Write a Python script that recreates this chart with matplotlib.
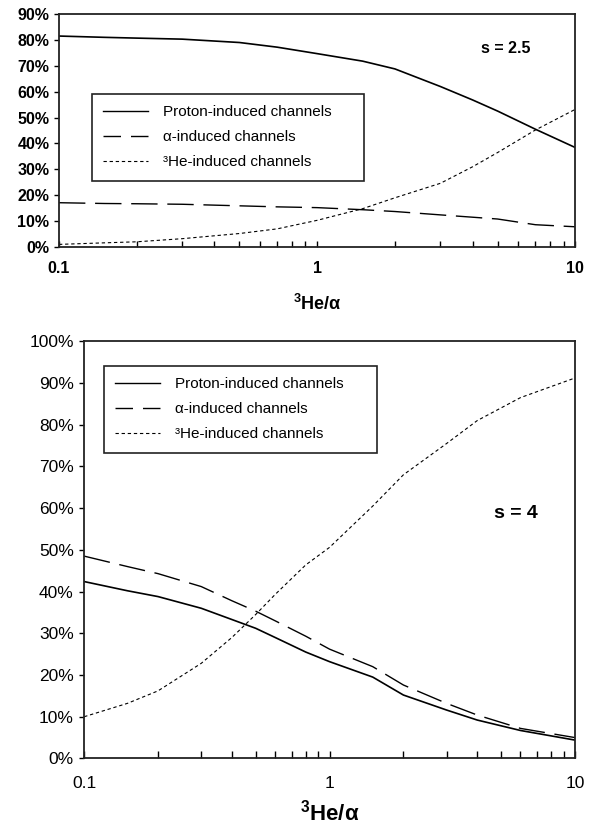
import matplotlib
matplotlib.use("Agg")
from matplotlib import pyplot as plt
from matplotlib.lines import Line2D
from matplotlib.ticker import PercentFormatter, FixedLocator, FixedFormatter, LogLocator, NullFormatter

plt.rcParams['font.family'] = ['Liberation Sans', 'DejaVu Sans']
plt.rcParams['mathtext.fontset'] = 'custom'
plt.rcParams['mathtext.rm'] = 'Liberation Sans'
plt.rcParams['mathtext.it'] = 'Liberation Sans'
plt.rcParams['mathtext.bf'] = 'Liberation Sans:bold'

# upper panel, s = 2.5
x_top = [0.1, 0.15, 0.2, 0.3, 0.5, 0.7, 1, 1.5, 2, 3, 4, 5, 7, 10]
proton_top = [81.5, 81.0, 80.7, 80.3, 79.0, 77.2, 74.7, 71.8, 68.8, 62.0, 56.8, 52.5, 45.5, 38.4]
alpha_top = [17.1, 16.8, 16.7, 16.5, 15.9, 15.5, 15.2, 14.4, 13.7, 12.4, 11.5, 10.8, 8.6, 7.8]
he3_top = [1.0, 1.6, 2.0, 3.2, 5.2, 7.0, 10.3, 14.8, 19.0, 24.6, 31.0, 36.5, 45.2, 53.2]

# lower panel, s = 4
x_bot = [0.1, 0.15, 0.2, 0.3, 0.4, 0.5, 0.6, 0.8, 1, 1.5, 2, 3, 4, 6, 10]
proton_bot = [42.4, 40.2, 38.8, 36.0, 33.3, 31.2, 29.0, 25.5, 23.2, 19.5, 15.2, 11.6, 9.2, 6.7, 4.4]
alpha_bot = [48.5, 46.0, 44.3, 41.2, 37.8, 35.3, 33.0, 29.3, 26.2, 22.0, 17.6, 13.2, 10.4, 7.2, 5.0]
he3_bot = [10.0, 13.2, 16.2, 22.8, 29.0, 34.5, 39.3, 46.4, 50.6, 60.5, 68.0, 75.5, 81.0, 86.5, 91.2]

labels = ["Proton-induced channels", "\u03b1-induced channels", "\u00b3He-induced channels"]
x_label = r"$\mathbf{^{3}He/\alpha}$"
x_ticks = [0.1, 1, 10]
x_tick_labels = ["0.1", "1", "10"]

LONG_DASH = (19, 7)
SHORT_DASH = (3, 2.5)


def draw_panel(ax, x, proton, alpha, he3, ymax, tick_size, tick_weight, xpad, ypad, xtick_len):
    ax.plot(x, proton, color="black", lw=1.2)
    ax.plot(x, alpha, color="black", lw=1.0, dashes=LONG_DASH)
    ax.plot(x, he3, color="black", lw=0.8, dashes=SHORT_DASH)

    ax.set_xscale("log")
    ax.set_xlim(0.1, 10)
    ax.set_ylim(0, ymax)
    ax.xaxis.set_major_locator(FixedLocator(x_ticks))
    ax.xaxis.set_major_formatter(FixedFormatter(x_tick_labels))
    ax.xaxis.set_minor_locator(LogLocator(base=10, subs=range(2, 10)))
    ax.xaxis.set_minor_formatter(NullFormatter())
    ax.yaxis.set_major_locator(FixedLocator(range(0, ymax + 1, 10)))
    ax.yaxis.set_major_formatter(PercentFormatter(decimals=0))

    ax.tick_params(axis="x", which="both", direction="in", length=xtick_len, width=1.0, pad=xpad,
                   labelsize=tick_size)
    ax.tick_params(axis="y", direction="out", length=3.5, width=1.0, pad=ypad, labelsize=tick_size)
    for lab in ax.get_xticklabels() + ax.get_yticklabels():
        lab.set_fontweight(tick_weight)
    for sp in ax.spines.values():
        sp.set_linewidth(1.3)
        sp.set_color("#222222")


def add_legend(ax, x0, top, width):
    handles = [Line2D([], [], color="black", lw=1.0),
               Line2D([], [], color="black", lw=1.0, dashes=(12.6, 7.2)),
               Line2D([], [], color="black", lw=0.8, dashes=SHORT_DASH)]
    leg = ax.legend(handles, labels, loc="upper left", bbox_to_anchor=(x0, 0, width, top),
                    mode="expand", fontsize=11, frameon=True, fancybox=False, framealpha=1,
                    edgecolor="#222222", borderaxespad=0, handlelength=2.95, handletextpad=0.95,
                    borderpad=0.75, labelspacing=0.72)
    leg.get_frame().set_linewidth(1.2)


fig = plt.figure(figsize=(5.97, 8.26), dpi=100)

ax1 = fig.add_axes([0.0988, 0.701, 0.865, 0.282])
draw_panel(ax1, x_top, proton_top, alpha_top, he3_top, 90, 11.5, "bold", 10, 3.5, 4)
add_legend(ax1, 0.063, 0.657, 0.528)
ax1.text(0.866, 0.854, "s = 2.5", transform=ax1.transAxes, ha="center", va="center",
         fontsize=11.5, fontweight="bold")
ax1.set_xlabel(x_label, fontsize=13, labelpad=13)

ax2 = fig.add_axes([0.141, 0.0818, 0.822, 0.505])
draw_panel(ax2, x_bot, proton_bot, alpha_bot, he3_bot, 100, 12.5, "normal", 13, 4, 5)
add_legend(ax2, 0.040, 0.941, 0.557)
ax2.text(0.879, 0.588, "s = 4", transform=ax2.transAxes, ha="center", va="center",
         fontsize=14, fontweight="bold")
ax2.set_xlabel(x_label, fontsize=16, labelpad=6)

fig.savefig("out.png", dpi=100)
